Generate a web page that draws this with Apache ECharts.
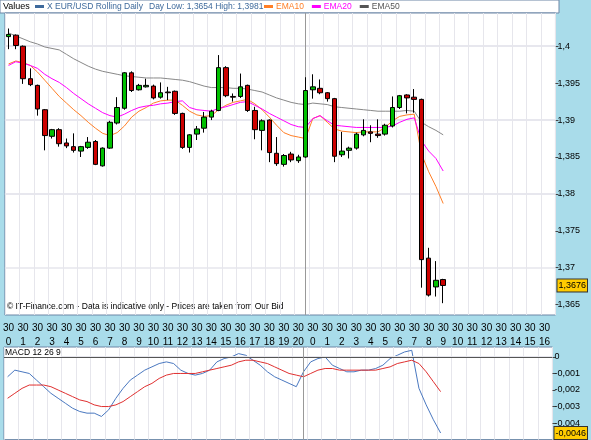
<!DOCTYPE html>
<html><head><meta charset="utf-8">
<script src="https://cdn.jsdelivr.net/npm/echarts@6/dist/echarts.min.js"></script>
<style>html,body{margin:0;padding:0;background:#a9dcea}#c{width:591px;height:440px}</style>
</head><body><div id="c"></div>
<script>
const hourLabels = [0,1,2,3,4,5,6,7,8,9,10,11,12,13,14,15,16,17,18,19,20,0,1,2,3,4,5,6,7,8,9,10,11,12,13,14,15,16];
const priceTicks = [1.365,1.37,1.375,1.38,1.385,1.39,1.395,1.4];
const macdTicks = [-0.004,-0.003,-0.002,-0.001,0];
const ohlc = [ // [open, close, low, high]
[1.4013,1.4016,1.3996,1.4024],[1.4015,1.4001,1.3996,1.4016],[1.4000,1.3956,1.3949,1.4001],[1.3956,1.3948,1.3946,1.3970],
[1.3947,1.3915,1.3906,1.3948],[1.3914,1.3879,1.3859,1.3915],[1.3878,1.3887,1.3875,1.3888],[1.3887,1.3868,1.3864,1.3889],
[1.3869,1.3865,1.3862,1.3875],[1.3864,1.3859,1.3856,1.3882],[1.3858,1.3864,1.3850,1.3865],[1.3863,1.3870,1.3861,1.3877],
[1.3871,1.3840,1.3839,1.3873],[1.3838,1.3862,1.3837,1.3863],[1.3862,1.3897,1.3861,1.3899],[1.3896,1.3917,1.3894,1.3931],
[1.3916,1.3964,1.3914,1.3965],[1.3964,1.3940,1.3938,1.3966],[1.3941,1.3947,1.3940,1.3949],[1.3945,1.3947,1.3944,1.3956],
[1.3946,1.3930,1.3928,1.3948],[1.3931,1.3937,1.3929,1.3951],[1.3938,1.3937,1.3927,1.3945],[1.3939,1.3909,1.3907,1.3940],
[1.3909,1.3863,1.3861,1.3910],[1.3863,1.3880,1.3856,1.3881],[1.3881,1.3888,1.3873,1.3892],[1.3889,1.3904,1.3883,1.3911],
[1.3904,1.3912,1.3900,1.3914],[1.3913,1.3971,1.3912,1.3988],[1.3971,1.3933,1.3931,1.3973],[1.3932,1.3931,1.3925,1.3936],
[1.3932,1.3945,1.3930,1.3963],[1.3947,1.3913,1.3911,1.3948],[1.3913,1.3887,1.3874,1.3918],[1.3886,1.3899,1.3859,1.3901],
[1.3900,1.3856,1.3843,1.3901],[1.3855,1.3841,1.3838,1.3877],[1.3840,1.3852,1.3837,1.3854],[1.3854,1.3846,1.3843,1.3857],
[1.3845,1.3850,1.3842,1.3853],[1.3850,1.3940,1.3849,1.3958],[1.3941,1.3945,1.3929,1.3962],[1.3943,1.3937,1.3935,1.3955],
[1.3937,1.3929,1.3925,1.3938],[1.3929,1.3851,1.3843,1.3930],[1.3853,1.3858,1.3850,1.3884],[1.3859,1.3862,1.3848,1.3864],
[1.3862,1.3881,1.3860,1.3883],[1.3880,1.3886,1.3878,1.3901],[1.3884,1.3882,1.3870,1.3893],[1.3881,1.3879,1.3876,1.3901],
[1.3881,1.3893,1.3879,1.3895],[1.3892,1.3917,1.3890,1.3932],[1.3917,1.3933,1.3915,1.3934],[1.3934,1.3930,1.3909,1.3935],
[1.3931,1.3928,1.3910,1.3942],[1.3928,1.3711,1.3673,1.3929],[1.3713,1.3663,1.3661,1.3727],[1.3674,1.3683,1.3661,1.3709],
[1.3684,1.3676,1.3652,1.3685]];
const ema10 = [1.3976,1.3980,1.3978,1.3974,1.3965,1.3954,1.3943,1.3932,1.3923,1.3914,1.3906,1.3897,1.3889,1.3882,1.3879,1.3883,1.3892,1.3904,1.3912,1.3917,1.3923,1.3926,1.3927,1.3927,1.3920,1.3912,1.3907,1.3905,1.3906,1.3914,1.3920,1.3924,1.3926,1.3928,1.3922,1.3914,1.3904,1.3893,1.3883,1.3879,1.3877,1.3875,1.3902,1.3906,1.3897,1.3888,1.3885,1.3884,1.3883,1.3884,1.3884,1.3884,1.3890,1.3899,1.3905,1.3907,1.3908,1.3854,1.3830,1.3810,1.3787];
const ema20 = [1.3974,1.3979,1.3977,1.3974,1.3970,1.3962,1.3956,1.3951,1.3944,1.3936,1.3929,1.3922,1.3916,1.3910,1.3906,1.3904,1.3908,1.3913,1.3917,1.3919,1.3920,1.3922,1.3923,1.3925,1.3926,1.3917,1.3914,1.3913,1.3912,1.3916,1.3918,1.3921,1.3924,1.3925,1.3920,1.3915,1.3909,1.3904,1.3899,1.3894,1.3891,1.3890,1.3902,1.3906,1.3899,1.3893,1.3892,1.3891,1.3890,1.3890,1.3890,1.3890,1.3890,1.3892,1.3897,1.3901,1.3903,1.3872,1.3858,1.3848,1.3831];
const ema50 = [1.4018,1.4014,1.4010,1.4006,1.4003,1.3999,1.3997,1.3995,1.3989,1.3983,1.3978,1.3973,1.3969,1.3966,1.3964,1.3962,1.3960,1.3959,1.3958,1.3957,1.3957,1.3957,1.3956,1.3955,1.3954,1.3952,1.3949,1.3946,1.3944,1.3944,1.3944,1.3943,1.3943,1.3942,1.3940,1.3938,1.3934,1.3930,1.3927,1.3924,1.3922,1.3921,1.3923,1.3922,1.3921,1.3918,1.3917,1.3916,1.3915,1.3914,1.3913,1.3912,1.3912,1.3912,1.3912,1.3913,1.3912,1.3897,1.3891,1.3886,1.3880];
const macd = [-0.0012,-0.0008,-0.0009,-0.0010,-0.0014,-0.0018,-0.0022,-0.0025,-0.0028,-0.0031,-0.0033,-0.0034,-0.0034,-0.0036,-0.0032,-0.0025,-0.0019,-0.0014,-0.0011,-0.0008,-0.0006,-0.0004,-0.0003,-0.0004,-0.0008,-0.0010,-0.0011,-0.0010,-0.0008,-0.0003,-0.0001,0.0000,0.0002,0.0001,-0.0002,-0.0005,-0.0009,-0.0012,-0.0014,-0.0016,-0.0018,-0.0009,-0.0003,-0.0001,0.0000,-0.0005,-0.0007,-0.0009,-0.0009,-0.0008,-0.0008,-0.0007,-0.0005,-0.0001,0.0001,0.0003,0.0004,-0.0019,-0.0029,-0.0038,-0.0046];
const signal = [-0.0025,-0.0022,-0.0019,-0.0017,-0.0017,-0.0017,-0.0018,-0.0020,-0.0022,-0.0024,-0.0026,-0.0027,-0.0029,-0.0030,-0.0030,-0.0029,-0.0027,-0.0024,-0.0021,-0.0018,-0.0016,-0.0013,-0.0011,-0.0010,-0.0010,-0.0010,-0.0010,-0.0009,-0.0008,-0.0007,-0.0006,-0.0005,-0.0003,-0.0002,-0.0002,-0.0003,-0.0004,-0.0006,-0.0008,-0.0010,-0.0011,-0.0012,-0.0010,-0.0008,-0.0007,-0.0007,-0.0008,-0.0008,-0.0008,-0.0008,-0.0008,-0.0008,-0.0007,-0.0006,-0.0004,-0.0003,-0.0002,-0.0004,-0.0009,-0.0015,-0.0021];
const lastPrice = 1.3676, lastMacd = -0.0046, daySplit = 41;

const cats = [];
hourLabels.forEach(h => { cats.push('30\n' + h); cats.push(''); });
const fmt = v => String(+(+v).toFixed(4)).replace('.', ',');
const F = 'Liberation Sans, Arial, sans-serif';
const tagFmt = last => v => Math.abs(v - last) < 1e-9 ? '{t|' + fmt(v) + '}' : fmt(v);
const rich = {t:{backgroundColor:'#ffcc00', borderColor:'#333', borderWidth:1, padding:[2,1,1,1], color:'#000', fontSize:9, fontFamily:F}};
const grid = (vals) => vals.map(v => ({yAxis:v, lineStyle:{color:'#e6e6ec', width:1.5, type:'solid'}, label:{show:false}}));

const chart = echarts.init(document.getElementById('c'));
chart.setOption({
  animation:false, backgroundColor:'#a9dcea',
  textStyle:{fontFamily:F},
  graphic:[
    {type:'rect', shape:{x:0,y:0,width:559,height:13}, style:{fill:'#fff', stroke:'#6d86a6'}, z:-1},
    {type:'text', left:3, top:2, style:{text:'Values', fontSize:9, fontFamily:F, fill:'#000'}},
    {type:'text', left:149, top:2, style:{text:'Day Low: 1,3654 High: 1,3981', fontSize:8.5, fontFamily:F, fill:'#3e6a9c'}},
    {type:'text', left:7, top:302, style:{text:'© IT-Finance.com - Data is indicative only - Prices are taken from Our Bid', fontSize:8.5, fontFamily:F, fill:'#000'}},
    {type:'text', left:5, top:348, z:10, style:{text:'MACD 12 26 9', fontSize:8.5, fontFamily:F, fill:'#000', backgroundColor:'#fff'}}
  ],
  legend:[
    {left:35, top:2, itemWidth:9, itemHeight:3, itemGap:10, padding:0, selectedMode:false,
     data:[{name:'X EUR/USD Rolling Daily', icon:'rect', itemStyle:{color:'#3e6a9c',borderWidth:0}, textStyle:{color:'#3e6a9c'}}],
     textStyle:{fontSize:8.5, fontFamily:F, padding:[0,0,0,-2]}},
    {left:264, top:2, itemWidth:9, itemHeight:3, itemGap:8, padding:0, selectedMode:false,
     data:[{name:'EMA10', icon:'rect', textStyle:{color:'#ff7f27'}},{name:'EMA20', icon:'rect', textStyle:{color:'#ff00ff'}},{name:'EMA50', icon:'rect', textStyle:{color:'#555'}}],
     textStyle:{fontSize:8.5, fontFamily:F, padding:[0,0,0,-2]}}
  ],
  grid:[
    {left:4, right:32, top:13, height:302, show:true, backgroundColor:'#fff', borderColor:'#6d86a6', borderWidth:1},
    {left:4, right:32, top:347, height:93, show:true, backgroundColor:'#fff', borderColor:'#6d86a6', borderWidth:1}
  ],
  xAxis:[
    {type:'category', gridIndex:0, data:cats, boundaryGap:true,
     axisLine:{show:false}, axisTick:{show:false, alignWithLabel:true, interval:1},
     axisLabel:{interval:1, color:'#000', fontSize:10, lineHeight:14, margin:6, fontFamily:F},
     splitLine:{show:true, interval:1, lineStyle:{color:'#e6e6ec'}}},
    {type:'category', gridIndex:1, data:cats, boundaryGap:true,
     axisLine:{show:false}, axisTick:{show:false, alignWithLabel:true, interval:1}, axisLabel:{show:false},
     splitLine:{show:true, interval:1, lineStyle:{color:'#e6e6ec'}}}
  ],
  yAxis:[
    {type:'value', gridIndex:0, position:'right', min:1.3636, max:1.4045,
     axisLine:{show:false}, axisTick:{show:true, length:3, customValues:priceTicks, lineStyle:{color:'#444'}},
     axisLabel:{formatter:tagFmt(lastPrice), rich, customValues:[...priceTicks, lastPrice], color:'#000', fontSize:9, margin:2, hideOverlap:false},
     splitLine:{show:false}},
    {type:'value', gridIndex:1, position:'right', min:-0.005, max:0.0006,
     axisLine:{show:false}, axisTick:{show:true, length:3, customValues:macdTicks, lineStyle:{color:'#444'}},
     axisLabel:{formatter:tagFmt(lastMacd), rich, customValues:[...macdTicks, lastMacd], color:'#000', fontSize:9, margin:2, hideOverlap:false},
     splitLine:{show:false}}
  ],
  series:[
    {name:'X EUR/USD Rolling Daily', type:'candlestick', xAxisIndex:0, yAxisIndex:0, data:ohlc, barWidth:5, z:3,
     itemStyle:{color:'#00c000', color0:'#cc0000', borderColor:'#000', borderColor0:'#000', borderWidth:1},
     markLine:{silent:true, symbol:'none', z:1, data:[
       ...grid(priceTicks),
       {xAxis:daySplit, lineStyle:{color:'#999', type:'solid', width:1}, label:{show:false}}]}},
    {name:'EMA10', type:'line', data:ema10, showSymbol:false, lineStyle:{color:'#ff7f27', width:1}, itemStyle:{color:'#ff7f27'}},
    {name:'EMA20', type:'line', data:ema20, showSymbol:false, lineStyle:{color:'#ff00ff', width:1}, itemStyle:{color:'#ff00ff'}},
    {name:'EMA50', type:'line', data:ema50, showSymbol:false, lineStyle:{color:'#888', width:1}, itemStyle:{color:'#555'}},
    {name:'MACD', type:'line', xAxisIndex:1, yAxisIndex:1, data:macd, showSymbol:false, lineStyle:{color:'#4a78c0', width:1},
     markLine:{silent:true, symbol:'none', data:[
       ...grid(macdTicks.slice(0,4)),
       {yAxis:0, lineStyle:{color:'#555', type:'solid', width:1}, label:{show:false}},
       {xAxis:daySplit, lineStyle:{color:'#999', type:'solid', width:1}, label:{show:false}}]}},
    {name:'Signal', type:'line', xAxisIndex:1, yAxisIndex:1, data:signal, showSymbol:false, lineStyle:{color:'#e03030', width:1}}
  ]
});
</script></body></html>
